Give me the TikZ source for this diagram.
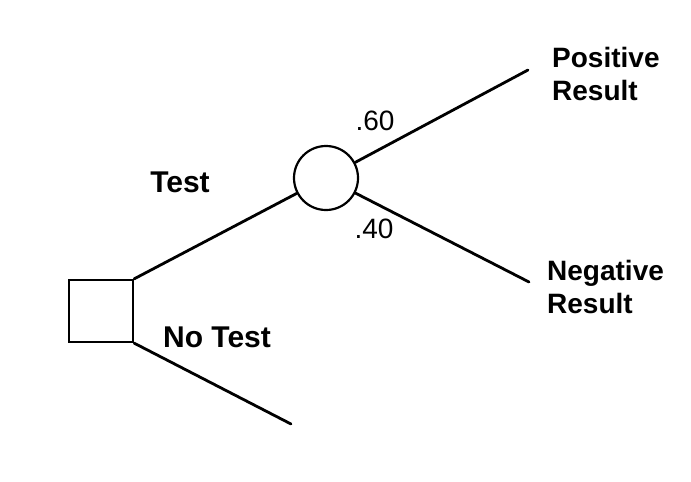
\documentclass[tikz,border=0pt]{standalone}
\usepackage{fontspec}
\setmainfont{Liberation Sans}
\begin{document}
\begin{tikzpicture}[x=1pt,y=-1pt,
  branch/.style={line width=2.8pt,line cap=round},
  lbl/.style={font=\fontsize{28}{33}\selectfont\bfseries,inner sep=0pt},
  biglbl/.style={font=\fontsize{30}{34}\selectfont\bfseries,inner sep=0pt},
  prob/.style={font=\fontsize{28}{30}\selectfont,inner sep=0pt},
  decision/.style={draw,line width=2.2pt,rectangle,minimum width=64pt,minimum height=62pt,inner sep=0pt},
  chance/.style={draw,line width=2.2pt,circle,minimum size=64pt,inner sep=0pt}]
\useasboundingbox (0,0) rectangle (691,482);
\node[decision] (sq) at (101,311) {};
\node[chance] (circ) at (326,178) {};
\coordinate (posend) at (528,70);
\coordinate (negend) at (529,282);
\coordinate (noend) at (291,424);
\draw[branch] (sq.north east) -- (circ);
\draw[branch] (sq.south east) -- (noend);
\draw[branch] (circ) -- (posend);
\draw[branch] (circ) -- (negend);
\node[biglbl,anchor=base] (test) at (180,192) {Test};
\node[biglbl,anchor=base] (notest) at (217,347) {No Test};
\node[lbl,align=left,anchor=north west] (pos) at (552,47) {Positive\\Result};
\node[lbl,align=left,anchor=north west] (neg) at (547,260) {Negative\\Result};
\node[prob] (p60) at (375,121) {.60};
\node[prob] (p40) at (374,229) {.40};
\end{tikzpicture}
\end{document}
